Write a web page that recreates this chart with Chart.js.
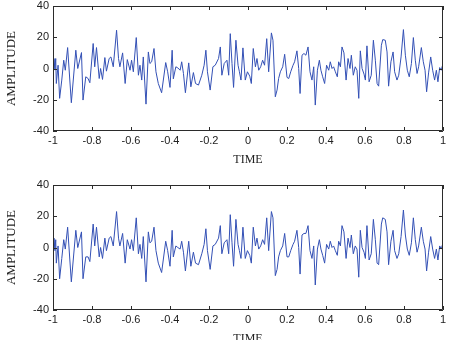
<!DOCTYPE html>
<html>
<head>
<meta charset="utf-8">
<script src="https://cdn.jsdelivr.net/npm/chart.js@4.4.1/dist/chart.umd.min.js"></script>
<style>
  html, body { margin: 0; padding: 0; background: #fff; overflow: hidden; width: 450px; height: 340px; }
  #topWrap { position: absolute; left: 0; top: -9px; width: 450px; height: 179px; }
  #bottomWrap { position: absolute; left: 0; top: 170px; width: 450px; height: 179px; }
</style>
</head>
<body>
<div id="topWrap"><canvas id="topChart" width="450" height="179"></canvas></div>
<div id="bottomWrap"><canvas id="bottomChart" width="450" height="179"></canvas></div>
<script>
// sample times
const times = [
  -1.000,-0.995,-0.990,-0.986,-0.983,-0.974,-0.966,-0.955,-0.945,-0.937,
  -0.925,-0.906,-0.883,-0.873,-0.854,-0.846,-0.832,-0.820,-0.811,-0.794,
  -0.786,-0.777,-0.763,-0.756,-0.746,-0.734,-0.726,-0.712,-0.703,-0.691,
  -0.674,-0.664,-0.657,-0.643,-0.630,-0.619,-0.605,-0.597,-0.588,-0.573,
  -0.562,-0.554,-0.545,-0.537,-0.523,-0.511,-0.503,-0.494,-0.482,-0.472,
  -0.460,-0.443,-0.422,-0.412,-0.400,-0.389,-0.383,-0.370,-0.360,-0.348,
  -0.340,-0.331,-0.321,-0.304,-0.293,-0.280,-0.269,-0.254,-0.237,-0.225,
  -0.216,-0.208,-0.194,-0.180,-0.168,-0.151,-0.142,-0.134,-0.122,-0.108,
  -0.099,-0.091,-0.082,-0.074,-0.062,-0.051,-0.044,-0.036,-0.026,-0.014,
  -0.003,0.009,0.017,0.027,0.038,0.046,0.055,0.065,0.075,0.085,
  0.096,0.106,0.120,0.128,0.140,0.149,0.157,0.166,0.178,0.188,
  0.200,0.209,0.219,0.231,0.239,0.251,0.260,0.267,0.277,0.287,
  0.297,0.308,0.318,0.328,0.337,0.345,0.356,0.366,0.374,0.383,
  0.393,0.403,0.414,0.422,0.431,0.439,0.448,0.458,0.465,0.474,
  0.482,0.492,0.503,0.513,0.523,0.530,0.540,0.550,0.559,0.568,
  0.576,0.585,0.595,0.602,0.610,0.621,0.632,0.643,0.653,0.662,
  0.670,0.684,0.691,0.704,0.713,0.721,0.733,0.744,0.752,0.764,
  0.773,0.785,0.797,0.807,0.817,0.827,0.838,0.848,0.858,0.867,
  0.875,0.889,0.899,0.908,0.916,0.926,0.937,0.947,0.957,0.966,
  0.974,0.983,0.991,1.000
];

// top signal
const ampTop = [
  0,6.4,-1,6.4,-9.6,2.1,-19.1,-7.4,5.3,-1.1,
  13.4,-21.9,11.7,0,10.2,-20.2,-5.3,-6.4,-9.1,16,
  1.1,13.4,-6.4,0,-7,7,-1.7,6.4,7.4,1.1,
  24.5,6.4,1.1,10,-9.6,5.7,-1.1,5.3,-2.1,19.8,
  -4.3,2.1,-7.4,7.4,-22.8,10.6,3.2,4.3,12.8,-2.1,
  -9.6,-15.5,3.8,-2.1,-12.1,11.7,-6.6,1.1,0.4,-1.1,
  4.3,-3.2,-15.5,3.6,-11.7,-2.6,-9.6,-10.6,-4.3,2.1,
  11.7,-2.1,-13.8,1.1,2.1,6.4,13.8,-4.3,3.2,5.3,
  -4.3,22.3,3.2,-12.1,18.1,2.1,-2.1,-7.4,13.2,-7.4,
  -2.1,-4.9,-9.6,12.8,1.1,6.4,-1.1,1.1,5.3,2.1,
  19.1,-2.1,22.8,18.1,-18.1,-13.8,-6.4,-2.1,1.1,9.1,
  -5.7,-6.4,-2.1,2.1,4.3,11.3,0,-16,8.5,9.6,
  8.5,13.8,-2.1,-7.4,1.1,-23.4,-1.1,5.3,-1.1,-5.3,
  -9.6,2.1,-1.1,4.3,0,1.1,-2.1,-5.3,4.3,1.1,
  13.8,10,-7.4,6.4,0,8.5,-4.3,1.1,-1.1,-19.1,
  11.3,0,-3.6,-7.4,14.5,-8.5,-4.3,18.1,5.3,-9.6,
  -11.3,14.9,18.5,18.1,10.6,-11.3,4.3,10.6,-2.1,-7.4,
  -4.3,7.4,24.9,8.5,-1.1,-5.3,3.2,19.8,5.3,-3.2,
  1.1,13.4,4.3,-1.1,-14.9,-2.8,7.4,-1.1,-7.4,-1.1,
  -8.5,0.6,-1.1,3.2
];

// bottom signal
const ampBottom = [
  0,6,-2,5,-10,1,-20,-7,5,-1,
  13,-22,11,0,10,-20,-6,-6,-9,15,
  1,13,-6,0,-7,6,-2,6,7,1,
  23,6,1,9,-10,5,-1,5,-2,19,
  -4,2,-7,7,-22,10,3,4,13,-2,
  -10,-16,4,-2,-12,11,-6,1,0,-1,
  4,-3,-15,4,-12,-3,-10,-11,-4,2,
  12,-2,-14,1,2,6,14,-4,3,5,
  -4,21,3,-12,18,2,-2,-7,13,-7,
  -2,-5,-10,13,1,6,-1,1,5,2,
  19,-2,23,19,-18,-14,-6,-2,1,9,
  -6,-6,-2,2,4,11,0,-17,8,9,
  9,14,-2,-7,1,-24,-1,5,-1,-5,
  -10,2,-1,4,0,1,-2,-5,4,1,
  14,10,-7,6,0,8,-4,1,-1,-19,
  11,0,-3,-7,14,-8,-4,18,5,-10,
  -11,15,19,18,10,-11,4,11,-2,-7,
  -4,7,24,8,-1,-5,3,19,5,-3,
  1,13,4,-1,-15,-3,7,-1,-7,-1,
  -8,1,-1,3
];

const xTicks = [-1, -0.8, -0.6, -0.4, -0.2, 0, 0.2, 0.4, 0.6, 0.8, 1];
const xTickLabels = ['-1', '-0.8', '-0.6', '-0.4', '-0.2', '0', '0.2', '0.4', '0.6', '0.8', '1'];
const yTicks = [-40, -20, 0, 20, 40];
const yTickLabels = ['-40', '-20', '0', '20', '40'];

// matlab style box with inward ticks on all four sides
const boxPlugin = {
    id: 'boxPlugin',
    afterDatasetsDraw(chart) {
        const { ctx, chartArea: a, scales: { x, y } } = chart;
        const len = 4;
        ctx.save();
        ctx.strokeStyle = '#2b2b2b';
        ctx.lineWidth = 1;
        ctx.beginPath();
        ctx.rect(a.left + 0.5, a.top + 0.5, a.right - a.left - 1, a.bottom - a.top - 1);
        xTicks.forEach(v => {
            const px = Math.round(x.getPixelForValue(v)) + 0.5;
            ctx.moveTo(px, a.bottom); ctx.lineTo(px, a.bottom - len);
            ctx.moveTo(px, a.top); ctx.lineTo(px, a.top + len);
        });
        yTicks.forEach(v => {
            const py = Math.round(y.getPixelForValue(v)) + 0.5;
            ctx.moveTo(a.left, py); ctx.lineTo(a.left + len, py);
            ctx.moveTo(a.right, py); ctx.lineTo(a.right - len, py);
        });
        ctx.stroke();
        ctx.restore();
    }
};

function makeChart(id, amps) {
    const ctx = document.getElementById(id).getContext('2d');
    return new Chart(ctx, {
        type: 'line',
        data: {
            datasets: [{
                data: times.map((t, i) => ({ x: t, y: amps[i] })),
                borderColor: '#3350b5',
                borderWidth: 1,
                pointRadius: 0,
                tension: 0,
                fill: false
            }]
        },
        options: {
            responsive: false,
            animation: false,
            devicePixelRatio: 1,
            layout: { padding: { top: 15, right: 7, left: 0, bottom: 0 } },
            plugins: { legend: { display: false }, tooltip: { enabled: false } },
            scales: {
                x: {
                    type: 'linear',
                    min: -1,
                    max: 1,
                    afterBuildTicks: s => { s.ticks = xTicks.map(v => ({ value: v })); },
                    afterFit: s => { s.height = 39; },
                    grid: { display: false, drawTicks: false },
                    border: { display: false },
                    ticks: {
                        autoSkip: false,
                        maxRotation: 0,
                        padding: 3,
                        color: '#222',
                        font: { family: 'Liberation Sans', size: 11 },
                        callback: (v) => xTickLabels[xTicks.indexOf(v)]
                    },
                    title: {
                        display: true,
                        text: 'TIME',
                        color: '#222',
                        padding: 3,
                        font: { family: 'Liberation Serif', size: 12 }
                    }
                },
                y: {
                    min: -40,
                    max: 40,
                    afterBuildTicks: s => { s.ticks = yTicks.map(v => ({ value: v })); },
                    afterFit: s => { s.width = 53; },
                    grid: { display: false, drawTicks: false },
                    border: { display: false },
                    ticks: {
                        padding: 4,
                        color: '#222',
                        font: { family: 'Liberation Sans', size: 11 },
                        callback: (v) => yTickLabels[yTicks.indexOf(v)]
                    },
                    title: {
                        display: true,
                        text: 'AMPLITUDE',
                        color: '#222',
                        padding: 4,
                        font: { family: 'Liberation Serif', size: 13 }
                    }
                }
            }
        },
        plugins: [boxPlugin]
    });
}

document.addEventListener('DOMContentLoaded', () => {
    makeChart('topChart', ampTop);
    makeChart('bottomChart', ampBottom);
});
</script>
</body>
</html>
